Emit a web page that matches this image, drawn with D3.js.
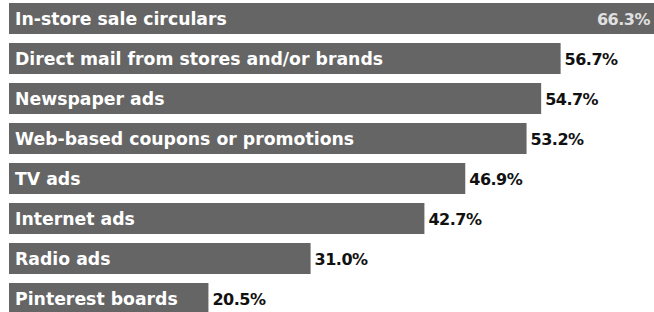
<!DOCTYPE html>
<html>
<head>
<meta charset="utf-8">
<script src="https://cdn.jsdelivr.net/npm/d3@7"></script>
<style>
  body { margin: 0; background: #fff; }
  svg { display: block; }
  .name { fill: #fff; font-family: "DejaVu Sans", sans-serif; font-weight: bold; font-size: 17.3px; }
  .val { font-family: "DejaVu Sans", sans-serif; font-weight: bold; font-size: 16px; letter-spacing: -0.5px; }
</style>
</head>
<body>
<div class="chart"></div>
<script>
var svgWidth = 654;
var svgHeight = 312;

var categories = [
  "In-store sale circulars",
  "Direct mail from stores and/or brands",
  "Newspaper ads",
  "Web-based coupons or promotions",
  "TV ads",
  "Internet ads",
  "Radio ads",
  "Pinterest boards"
];
var values = [66.3, 56.7, 54.7, 53.2, 46.9, 42.7, 31.0, 20.5];

var data = categories.map(function(c, i) {
  return {name: c, value: values[i]};
});

var svg = d3.select(".chart")
  .append("svg")
  .attr("width", svgWidth)
  .attr("height", svgHeight);

var x = d3.scaleLinear()
  .domain([0, 66.3])
  .range([9, 654]);

var y = d3.scaleBand()
  .domain(categories)
  .range([3, 314])
  .paddingInner(0.225)
  .paddingOuter(0);

var rows = svg.selectAll(".row")
  .data(data)
  .enter()
  .append("g")
  .attr("class", "row");

rows.append("rect")
  .attr("x", x(0))
  .attr("y", function(d) { return y(d.name); })
  .attr("width", function(d) { return x(d.value) - x(0); })
  .attr("height", y.bandwidth())
  .style("fill", "#656565");

rows.append("text")
  .attr("class", "name")
  .attr("x", x(0) + 6)
  .attr("y", function(d) { return y(d.name) + y.bandwidth() / 2; })
  .attr("dy", "0.4em")
  .text(function(d) { return d.name; });

rows.append("text")
  .attr("class", "val")
  .attr("y", function(d) { return y(d.name) + y.bandwidth() / 2; })
  .attr("dy", "0.4em")
  .text(function(d) { return d.value.toFixed(1) + "%"; })
  .each(function(d) {
    var t = d3.select(this);
    var w = this.getComputedTextLength();
    if (x(d.value) + 4 + w > svgWidth) {
      t.attr("x", x(d.value) - 4).attr("text-anchor", "end").style("fill", "#e0e0e0");
    } else {
      t.attr("x", x(d.value) + 4).style("fill", "#111");
    }
  });
</script>
</body>
</html>
